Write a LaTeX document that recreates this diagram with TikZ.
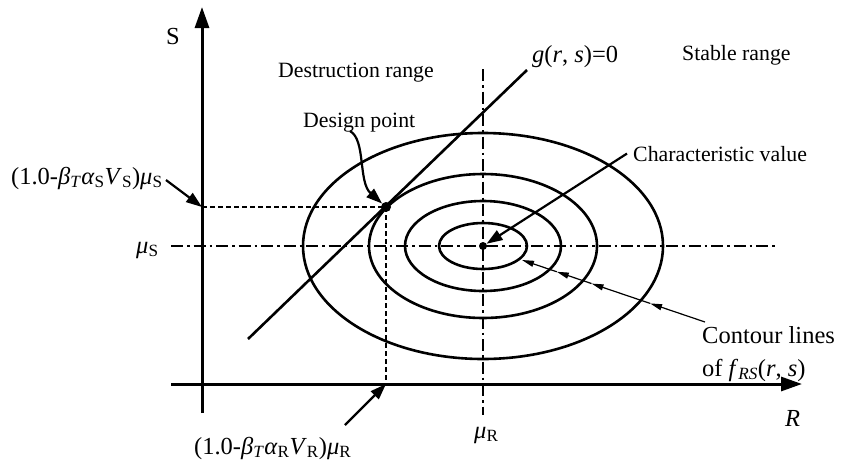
\documentclass[tikz,border=0pt]{standalone}
\usepackage{fontspec}
\setmainfont{Liberation Serif}
\usetikzlibrary{arrows.meta,positioning,calc}

\begin{document}
\begin{tikzpicture}[x=1pt, y=-1pt,
  font=\fontsize{21.8}{24}\selectfont,
  axis/.style={line width=3pt, -{Triangle[length=21pt, width=14pt]}},
  contour/.style={line width=2.6pt},
  chain/.style={line width=2.3pt, dash pattern=on 12pt off 4pt on 2.5pt off 4pt},
  guide/.style={line width=2pt, dash pattern=on 5pt off 3pt},
  callout/.style={line width=2.2pt, -{Triangle[length=16pt, width=11pt]}},
  thinarr/.style={line width=1.2pt, -{Triangle[length=12pt, width=6pt]}},
  lbl/.style={inner sep=0pt, anchor=base west},
  big/.style={font=\fontsize{24.5}{27}\selectfont},
  dot/.style={circle, fill, inner sep=0pt, minimum size=#1}
]
\useasboundingbox (0,0) rectangle (845,461);

% axes
\coordinate (sbot) at (202,413);
\coordinate (stop) at (202,7);
\coordinate (rleft) at (171,384);
\coordinate (rright) at (802,384);
\draw[axis] (sbot) -- (stop);
\draw[axis] (rleft) -- (rright);

% mean values
\coordinate (C) at (483,246);
\coordinate (musL) at (171,246);
\coordinate (musR) at (777,246);
\coordinate (murT) at (483,69);
\coordinate (murB) at (483,415);
\draw[chain] (musL) -- (musR);
\draw[chain] (murT) -- (murB);

% contours of f_RS
\foreach \rx/\ry in {44/23, 78/45, 114/72, 180/113}
  \draw[contour] (C) ellipse [x radius=\rx, y radius=\ry];
\node[dot=8pt] (mean) at (C) {};

% limit state g(r,s)=0
\coordinate (gtop) at (527,70);
\coordinate (gbot) at (248,339);
\draw[contour] (gbot) -- (gtop);

% design point
\node[dot=10pt] (dp) at (386,207) {};
\coordinate (dsaxis) at (202,207);
\coordinate (draxis) at (386,384);
\draw[guide] (dsaxis) -- (dp.center);
\draw[guide] (dp.center) -- (draxis);

% labels
\node[lbl, big] (slab) at (166,44) {S};
\node[lbl, big] (rlab) at (785,426) {\textit{R}};
\node[lbl] (destr) at (278,77) {Destruction range};
\node[lbl] (stable) at (682,60) {Stable range};
\node[lbl] (dplab) at (303,127) {Design point};
\node[lbl, big] (glab) at (532,62) {\textit{g}(\textit{r}, \textit{s})=0};
\node[lbl] (charlab) at (633,161) {Characteristic value};
\node[lbl, big] (contlab) at (702,343) {Contour lines};
\node[lbl, big] (oflab) at (702,376) {of \textit{f}\textsubscript{\textit{RS}}(\textit{r}, \textit{s})};
\node[lbl, big] (sform) at (11,184)
  {(1.0-\textit{β}\textsubscript{\textit{T}}\textit{α}\textsubscript{S}\textit{V}\textsubscript{S})\textit{μ}\textsubscript{S}};
\node[lbl, big] (rform) at (194,454)
  {(1.0-\textit{β}\textsubscript{\textit{T}}\textit{α}\textsubscript{R}\textit{V}\textsubscript{R})\textit{μ}\textsubscript{R}};
\node[lbl, big] (muslab) at (136,253) {\textit{μ}\textsubscript{S}};
\node[lbl, big] (murlab) at (474,438) {\textit{μ}\textsubscript{R}};

% callouts
\coordinate (dptail) at (350,131);
\coordinate (stail) at (166,180);
\coordinate (rtail) at (345,425);
\coordinate (c0) at (705,322);
\coordinate (c1) at (522,260);
\draw[callout] (dptail) .. controls (366,140) and (358,182) .. (dp);
\draw[callout] ([xshift=-6pt]charlab.west) -- (mean);
\draw[callout] (stail) -- (dsaxis);
\draw[callout] (rtail) -- (draxis);
\foreach \a/\b in {0/0.30, 0.30/0.62, 0.62/0.81, 0.81/1}
  \draw[thinarr] ($(c0)!\a!(c1)$) -- ($(c0)!\b!(c1)$);

\end{tikzpicture}
\end{document}
